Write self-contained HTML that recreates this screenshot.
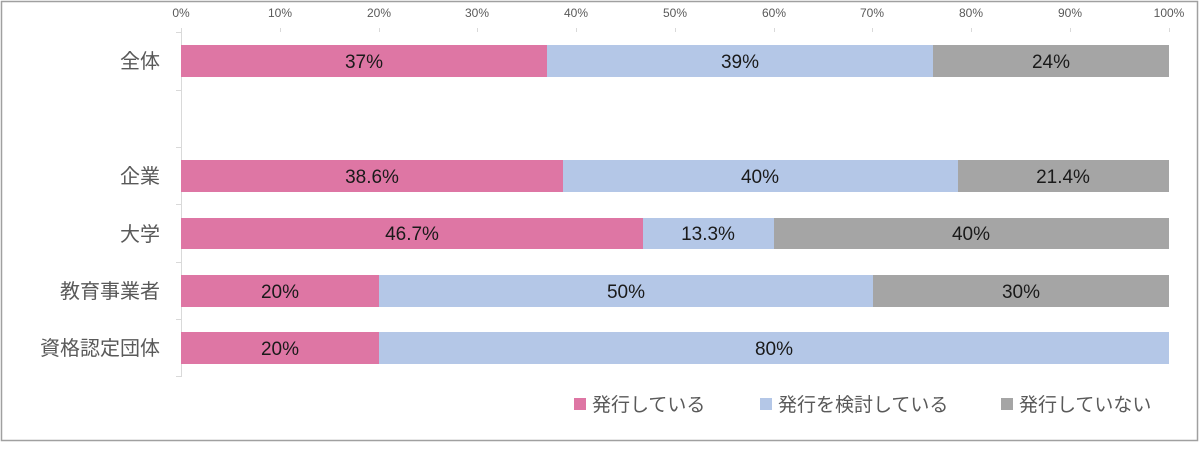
<!DOCTYPE html>
<html><head><meta charset="utf-8"><style>
body{margin:0;background:#fff;}
svg text{font-family:"Liberation Sans","Noto Sans CJK JP",sans-serif;}
</style></head><body>
<svg width="1200" height="446" xmlns="http://www.w3.org/2000/svg">
<rect x="1.5" y="1.5" width="1196" height="439" fill="#fff" stroke="#a0a0a0" stroke-width="1.5"/>
<g stroke="#d9d9d9" stroke-width="1">
<line x1="181.5" y1="32" x2="181.5" y2="377"/>
<line x1="176" y1="32.5" x2="181" y2="32.5"/>
<line x1="176" y1="90.5" x2="181" y2="90.5"/>
<line x1="176" y1="147.5" x2="181" y2="147.5"/>
<line x1="176" y1="204.5" x2="181" y2="204.5"/>
<line x1="176" y1="262.5" x2="181" y2="262.5"/>
<line x1="176" y1="319.5" x2="181" y2="319.5"/>
<line x1="176" y1="376.5" x2="181" y2="376.5"/>
<line x1="181.5" y1="28" x2="181.5" y2="32"/><line x1="280.5" y1="28" x2="280.5" y2="32"/><line x1="379.5" y1="28" x2="379.5" y2="32"/><line x1="477.5" y1="28" x2="477.5" y2="32"/><line x1="576.5" y1="28" x2="576.5" y2="32"/><line x1="675.5" y1="28" x2="675.5" y2="32"/><line x1="774.5" y1="28" x2="774.5" y2="32"/><line x1="872.5" y1="28" x2="872.5" y2="32"/><line x1="971.5" y1="28" x2="971.5" y2="32"/><line x1="1070.5" y1="28" x2="1070.5" y2="32"/><line x1="1169.5" y1="28" x2="1169.5" y2="32"/>
</g>
<g font-size="12" fill="#595959" text-anchor="middle">
<text x="181" y="17">0%</text><text x="280" y="17">10%</text><text x="379" y="17">20%</text><text x="477" y="17">30%</text><text x="576" y="17">40%</text><text x="675" y="17">50%</text><text x="774" y="17">60%</text><text x="872" y="17">70%</text><text x="971" y="17">80%</text><text x="1070" y="17">90%</text><text x="1169" y="17">100%</text>
</g>
<g font-size="20" fill="#595959" text-anchor="end">
<text x="160" y="68">全体</text><text x="160" y="183">企業</text><text x="160" y="241">大学</text><text x="160" y="298">教育事業者</text><text x="160" y="355">資格認定団体</text>
</g>
<g>
<rect x="181" y="45" width="366" height="32" fill="#DE76A4"/><rect x="547" y="45" width="386" height="32" fill="#B4C7E7"/><rect x="933" y="45" width="236" height="32" fill="#A5A5A5"/>
<rect x="181" y="160" width="382" height="32" fill="#DE76A4"/><rect x="563" y="160" width="395" height="32" fill="#B4C7E7"/><rect x="958" y="160" width="211" height="32" fill="#A5A5A5"/>
<rect x="181" y="218" width="462" height="31" fill="#DE76A4"/><rect x="643" y="218" width="131" height="31" fill="#B4C7E7"/><rect x="774" y="218" width="395" height="31" fill="#A5A5A5"/>
<rect x="181" y="275" width="198" height="32" fill="#DE76A4"/><rect x="379" y="275" width="494" height="32" fill="#B4C7E7"/><rect x="873" y="275" width="296" height="32" fill="#A5A5A5"/>
<rect x="181" y="332" width="198" height="32" fill="#DE76A4"/><rect x="379" y="332" width="790" height="32" fill="#B4C7E7"/>
</g>
<g font-size="19" fill="#1a1a1a" text-anchor="middle">
<text x="364" y="68">37%</text><text x="740" y="68">39%</text><text x="1051" y="68">24%</text>
<text x="372" y="183">38.6%</text><text x="760" y="183">40%</text><text x="1063" y="183">21.4%</text>
<text x="412" y="240">46.7%</text><text x="708" y="240">13.3%</text><text x="971" y="240">40%</text>
<text x="280" y="298">20%</text><text x="626" y="298">50%</text><text x="1021" y="298">30%</text>
<text x="280" y="355">20%</text><text x="774" y="355">80%</text>
</g>
<rect x="574" y="398" width="12" height="12" fill="#DE76A4"/>
<rect x="760" y="398" width="12" height="12" fill="#B4C7E7"/>
<rect x="1001" y="398" width="12" height="12" fill="#A5A5A5"/>
<g font-size="19" fill="#595959">
<text x="592" y="411">発行している</text><text x="778" y="411">発行を検討している</text><text x="1019" y="411">発行していない</text>
</g>
</svg>
</body></html>
